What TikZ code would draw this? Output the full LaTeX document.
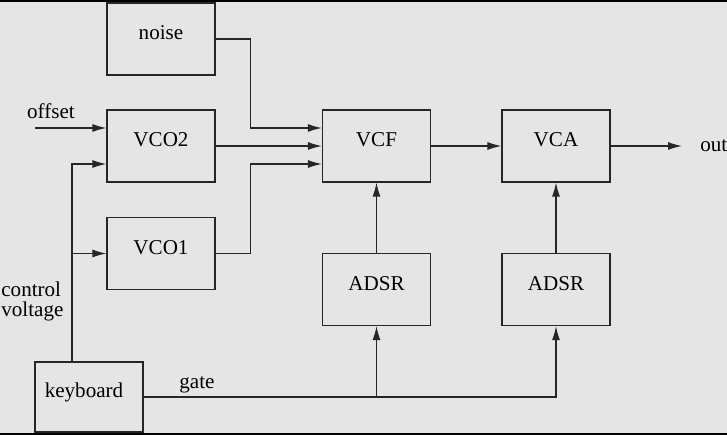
\documentclass[tikz,border=0pt]{standalone}
\usepackage{fontspec}
\setmainfont{Liberation Serif}
\usetikzlibrary{arrows.meta}
\definecolor{panel}{RGB}{229,229,229}

\begin{document}
\begin{tikzpicture}[
    font=\fontsize{12}{10}\selectfont,
    box/.style={draw=black!85, line width=0.7pt, minimum width=2.16cm, minimum height=1.44cm,
                text height=0.2cm, text depth=0.16cm, inner sep=0pt},
    wire/.style={draw=black!85, line width=0.7pt, -{Latex[length=2.8mm,width=1.6mm]}}
  ]
  \fill[panel] (0,0) rectangle (14.54,8.7);
  \useasboundingbox (0,0) rectangle (14.54,8.7);
  \fill[black] (0,8.66) rectangle (14.54,8.7);
  \fill[black] (0,0) rectangle (14.54,0.04);
  % blocks
  \node[box] (noise) at (3.22,7.92) {noise};
  \node[box] (vco2) at (3.22,5.78) {VCO2};
  \node[box] (vco1) at (3.22,3.63) {VCO1};
  \node[box] (vcf) at (7.53,5.78) {VCF};
  \node[box] (vca) at (11.12,5.78) {VCA};
  \node[box] (adsrA) at (7.53,2.91) {ADSR};
  \node[box] (adsrB) at (11.12,2.91) {ADSR};
  \node[box, minimum height=1.40cm] (keyboard) at (1.78,0.76) {\hspace*{-0.2cm}keyboard};
  % labels
  \node[anchor=base, inner sep=0pt] (offset) at (1.02,6.32) {offset};
  \node[anchor=west, align=left, inner sep=0pt, font=\fontsize{12}{11.5}\selectfont] (cvlabel) at (0.02,2.67) {control\\voltage};
  \node[anchor=base, inner sep=0pt] (gate) at (3.94,0.92) {gate};
  \node[anchor=west, inner sep=0pt] (out) at (14.0,5.78) {out};
  \coordinate (offin) at (0.70,6.14);
  \coordinate (cvfoot) at ([xshift=-0.34cm]keyboard.north);
  % audio path
  \draw[wire] (noise.east) -- ++(0.7,0) |- ([yshift=0.36cm]vcf.west);
  \draw[wire] (vco2.east) -- (vcf.west);
  \draw[wire] (vco1.east) -- ++(0.7,0) |- ([yshift=-0.36cm]vcf.west);
  \draw[wire] (vcf.east) -- (vca.west);
  \draw[wire, shorten >=0.36cm] (vca.east) -- (out.west);
  % control
  \draw[wire] (offin) -- ([yshift=0.36cm]vco2.west);
  \draw[wire] (cvfoot) |- ([yshift=-0.36cm]vco2.west);
  \draw[wire] (cvfoot |- vco1.west) -- (vco1.west);
  \draw[wire] (keyboard.east) -| (adsrB.south);
  \draw[wire] (keyboard.east -| adsrA.south) -- (adsrA.south);
  \draw[wire] (adsrA.north) -- (vcf.south);
  \draw[wire] (adsrB.north) -- (vca.south);
\end{tikzpicture}
\end{document}
